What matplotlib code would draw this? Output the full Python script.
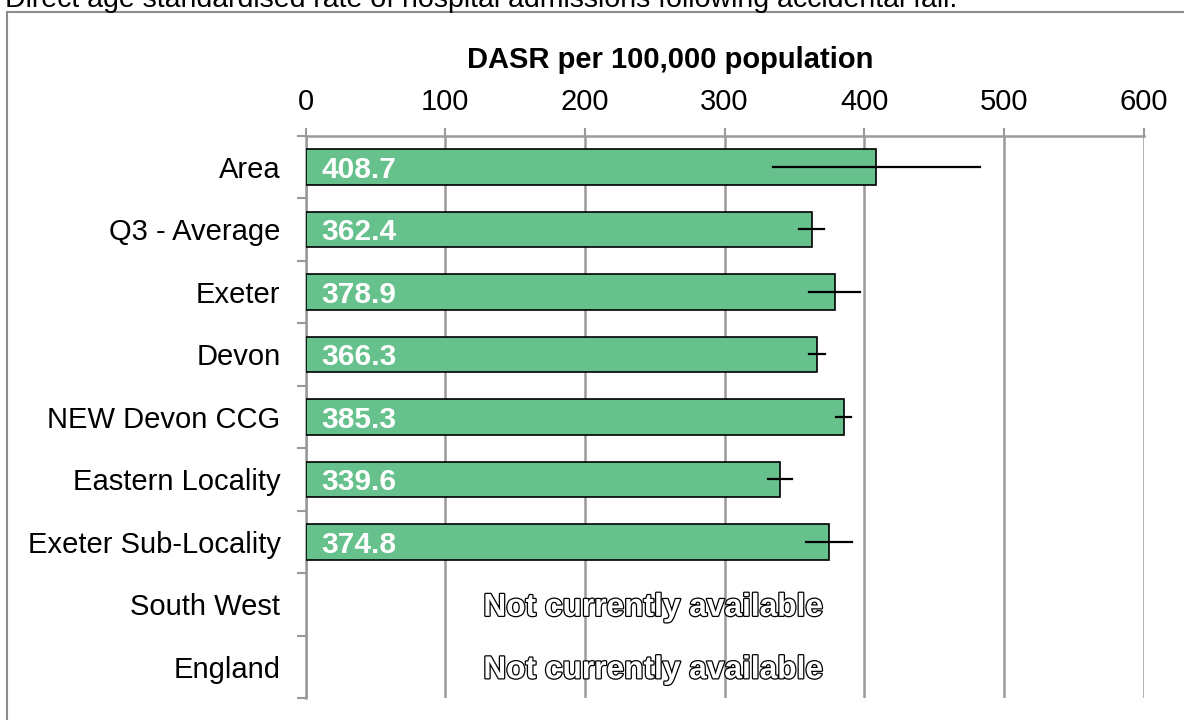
import matplotlib
matplotlib.use("Agg")
import matplotlib.pyplot as plt
import matplotlib.patheffects as pe
from matplotlib.lines import Line2D
import numpy as np

plt.rcParams['font.family'] = ['Liberation Sans', 'DejaVu Sans']

# data
categories = ["Area", "Q3 - Average", "Exeter", "Devon", "NEW Devon CCG",
              "Eastern Locality", "Exeter Sub-Locality", "South West", "England"]
values = [408.7, 362.4, 378.9, 366.3, 385.3, 339.6, 374.8, None, None]
lower_ci = [334.4, 353.5, 360.6, 360.4, 379.7, 331.0, 358.3, None, None]
upper_ci = [482.8, 371.0, 396.9, 371.9, 390.4, 348.3, 391.0, None, None]
missing_text = "Not currently available"
x_ticks = [0, 100, 200, 300, 400, 500, 600]

bar_color = "#66C18C"
grid_color = "#9A9A9A"

fig = plt.figure(figsize=(11.84, 7.2), dpi=100)
ax = fig.add_axes([305.5 / 1184, 22 / 720, 838 / 1184, 562.3 / 720])

y = np.arange(len(categories))
for i, v in enumerate(values):
    if v is None:
        ax.text(249, i, missing_text, ha="center", va="center_baseline", fontsize=22.8,
                fontweight="bold", color="white",
                path_effects=[pe.withStroke(linewidth=1.8, foreground="black")])
        continue
    ax.barh(i, v, height=0.57, color=bar_color, edgecolor="black", linewidth=1.2, zorder=3)
    ax.plot([lower_ci[i], upper_ci[i]], [i, i], color="black", lw=1.6, zorder=4)
    ax.text(11.5, i, f"{v:.1f}", ha="left", va="center_baseline", fontsize=21.5,
            fontweight="bold", color="white", zorder=5)

ax.set_xlim(0, 600)
ax.set_ylim(len(categories) - 0.5, -0.5)

# x axis on top
ax.xaxis.tick_top()
ax.set_xticks(x_ticks)
ax.set_xticklabels([str(t) for t in x_ticks], fontsize=21)
ax.tick_params(axis="x", direction="out", length=6, width=1.5, color=grid_color, pad=8)
ax.grid(axis="x", color=grid_color, lw=1.8, zorder=0)

# y ticks: labels at centres, tick marks at boundaries
ax.set_yticks(y)
ax.set_yticklabels(categories, fontsize=21)
ax.tick_params(axis="y", length=0, pad=18)
ax.set_yticks(np.arange(len(categories) + 1) - 0.5, minor=True)
ax.tick_params(axis="y", which="minor", length=6.5, width=1.5, color=grid_color)

for s in ["right", "bottom"]:
    ax.spines[s].set_visible(False)
for s in ["top", "left"]:
    ax.spines[s].set_color(grid_color)
    ax.spines[s].set_linewidth(1.8)

ax.text(0.435, 1.1346, "DASR per 100,000 population", transform=ax.transAxes,
        ha="center", va="center", fontsize=21, fontweight="bold")

# outer frame and cut-off title
fig.add_artist(Line2D([7 / 1184, 7 / 1184], [0, 1 - 12 / 720], color="#8C8C8C", lw=1.5))
fig.add_artist(Line2D([7 / 1184, 1], [1 - 12 / 720, 1 - 12 / 720], color="#8C8C8C", lw=1.5))
fig.text(5 / 1184, 1 - 7 / 720,
         "Direct age standardised rate of hospital admissions following accidental fall.",
         fontsize=20.5, ha="left", va="baseline")

fig.savefig("out.png", dpi=100)
